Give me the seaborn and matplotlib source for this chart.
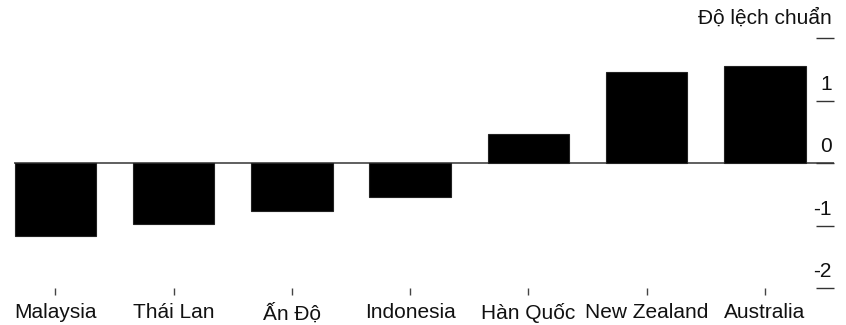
import matplotlib
matplotlib.use('Agg')
import matplotlib.pyplot as plt
import seaborn as sns

# Standardised values by country (standard deviations)
countries = ['Malaysia', 'Thái Lan', 'Ấn Độ', 'Indonesia', 'Hàn Quốc', 'New Zealand', 'Australia']
values = [-1.16, -0.97, -0.76, -0.55, 0.46, 1.45, 1.56]
y_ticks = [-2, -1, 0, 1, 2]
y_labels = ['-2', '-1', '0', '1', '']
unit_label = 'Độ lệch chuẩn'

sns.set_style('white')
plt.rcParams['font.family'] = ['Liberation Sans', 'DejaVu Sans']

fig = plt.figure(figsize=(8.46, 3.25), dpi=100)
ax = fig.add_axes([0.0165, 0.1138, 0.9693, 0.7692])

sns.barplot(x=countries, y=values, color='black', width=0.69, saturation=1,
            edgecolor='#222222', linewidth=0.8, ax=ax)

ax.axhline(0, color='#444444', lw=1.2, zorder=0)

ax.set_xlim(-0.35, 6.585)
ax.set_ylim(-2, 2)
for s in ax.spines.values():
    s.set_visible(False)

# y axis: short marks on the right, labels sit just above each mark
ax.yaxis.tick_right()
ax.set_yticks(y_ticks)
ax.set_yticklabels([])
ax.tick_params(axis='y', direction='in', length=13, width=1.0, color='#333333', right=True, left=False)
for v, lab in zip(y_ticks, y_labels):
    ax.annotate(lab, xy=(1, v), xycoords=('axes fraction', 'data'),
                xytext=(-1.5, 5), textcoords='offset points',
                ha='right', va='bottom', fontsize=15, color='#111111')

# x axis: small ticks under the bars
ax.tick_params(axis='x', direction='out', length=5, width=1.0, color='#444444',
               bottom=True, labelsize=15, labelcolor='#111111', pad=6)
ax.set_xlabel('')
ax.set_ylabel('')

fig.text(0.983, 0.945, unit_label, ha='right', va='center', fontsize=15, color='#111111')

fig.savefig('out.png', dpi=100)
